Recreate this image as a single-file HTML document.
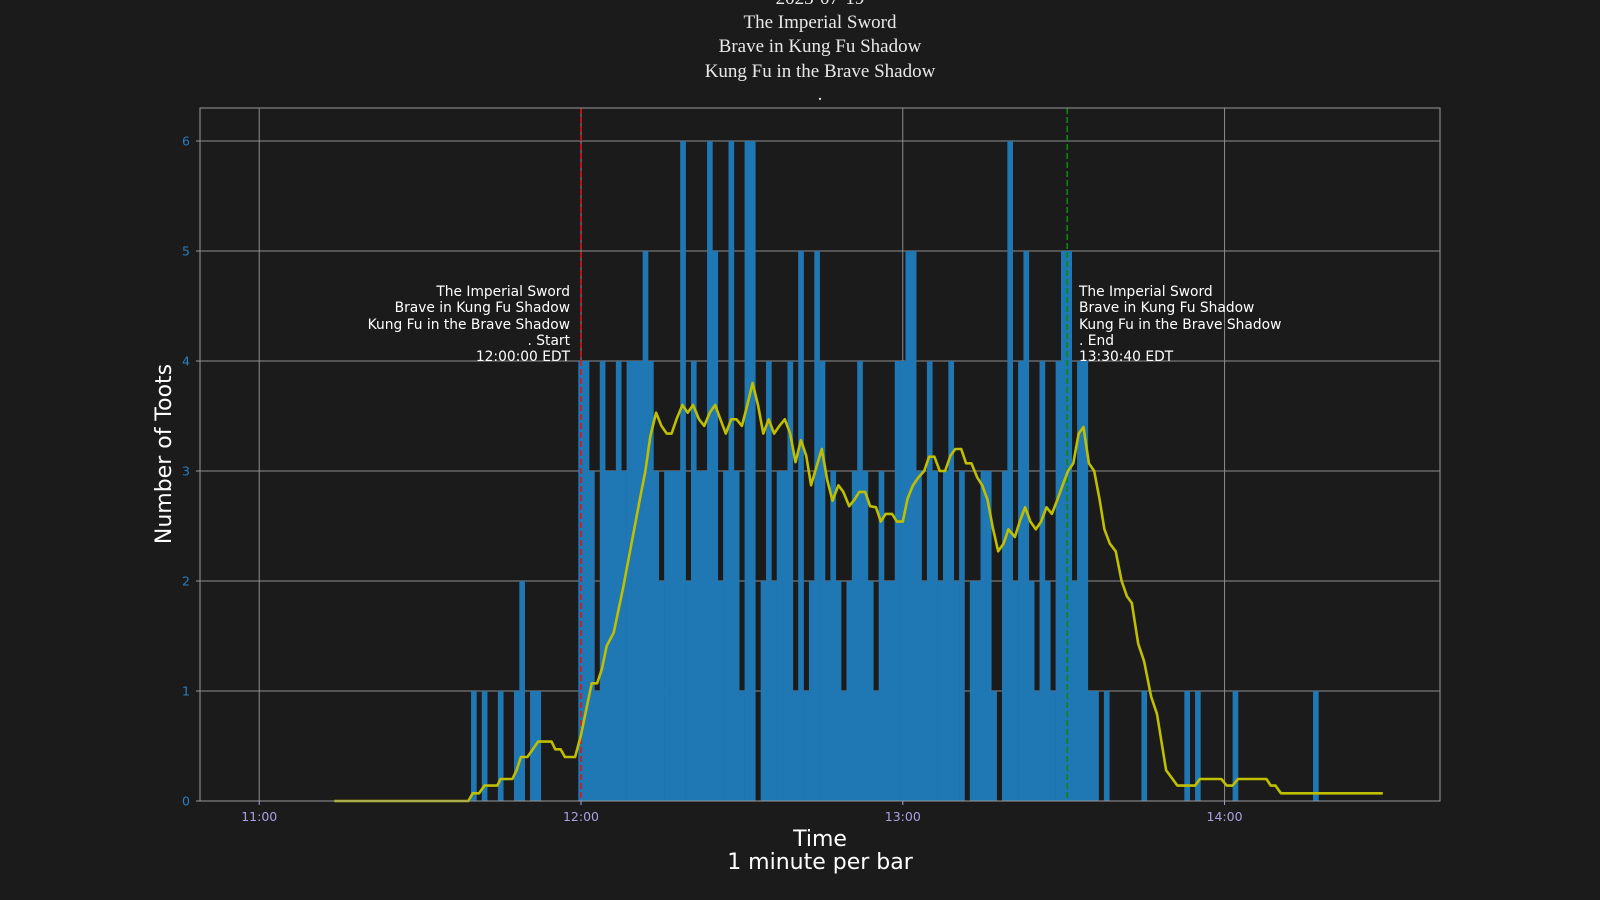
<!DOCTYPE html>
<html><head><meta charset="utf-8"><style>
html,body{margin:0;padding:0;background:#1b1b1b;}
svg{display:block;}
</style></head><body>
<svg id="chart" width="1600" height="900" viewBox="0 0 1600 900" xmlns="http://www.w3.org/2000/svg">
<rect x="0" y="0" width="1600" height="900" fill="#1b1b1b"/>
<g font-family="Liberation Serif, serif" font-size="19" fill="#e8e8e8" text-anchor="middle">
<text x="820" y="4">2023-07-19</text>
<text x="820" y="28">The Imperial Sword</text>
<text x="820" y="52">Brave in Kung Fu Shadow</text>
<text x="820" y="77">Kung Fu in the Brave Shadow</text>
<text x="820" y="100">.</text>
</g>
<g id="grid"></g>
<g id="bars"></g>
<g id="markers"></g>
<g id="line"></g>
<rect x="200" y="108" width="1240" height="693" fill="none" stroke="#9a9a9a" stroke-width="1"/>
<g id="ticks"></g>
<g font-family="DejaVu Sans, sans-serif" font-size="13.8" fill="#ffffff">
<g text-anchor="end">
<text x="570" y="296">The Imperial Sword</text>
<text x="570" y="312">Brave in Kung Fu Shadow</text>
<text x="570" y="329">Kung Fu in the Brave Shadow</text>
<text x="570" y="345">. Start</text>
<text x="570" y="361">12:00:00 EDT</text>
</g>
<g text-anchor="start">
<text x="1079" y="296">The Imperial Sword</text>
<text x="1079" y="312">Brave in Kung Fu Shadow</text>
<text x="1079" y="329">Kung Fu in the Brave Shadow</text>
<text x="1079" y="345">. End</text>
<text x="1079" y="361">13:30:40 EDT</text>
</g>
</g>
<text x="820" y="846" font-family="DejaVu Sans, sans-serif" font-size="22" fill="#ffffff" text-anchor="middle">Time</text>
<text x="820" y="869" font-family="DejaVu Sans, sans-serif" font-size="22" fill="#ffffff" text-anchor="middle">1 minute per bar</text>
<text x="0" y="0" transform="translate(171,454) rotate(-90)" font-family="DejaVu Sans, sans-serif" font-size="22" fill="#ffffff" text-anchor="middle">Number of Toots</text>
</svg>
<script>
const barMinutes = [-20,-18,-15,-12,-11,-9,-8,0,1,2,3,4,5,6,7,8,9,10,11,12,13,14,15,16,17,18,19,20,21,22,23,24,25,26,27,28,29,30,31,32,33,34,35,36,37,38,39,40,41,42,43,44,45,46,47,48,49,50,51,52,53,54,55,56,57,58,59,60,61,62,63,64,65,66,67,68,69,70,71,72,73,74,75,76,77,78,79,80,81,82,83,84,85,86,87,88,89,90,91,92,93,94,95,96,97,98,105,113,115,122,137];
const barCounts = [1,1,1,1,2,1,1,4,4,3,1,4,3,3,4,3,4,4,4,5,4,3,2,3,3,3,6,2,4,3,3,6,5,2,3,6,3,1,6,6,0,2,4,2,3,3,4,1,5,1,2,5,4,2,3,2,1,2,3,4,3,2,1,3,2,2,4,4,5,5,3,2,4,3,2,3,4,2,3,0,2,2,3,3,1,0,3,6,2,4,5,2,1,4,2,1,4,5,5,2,4,4,1,1,0,1,1,1,1,1,1];
const lineMinutes = [-46,-21,-20.2,-19,-18,-15.6,-15,-12.8,-12,-11.2,-10,-8,-5.5,-4.8,-3.8,-3,-1.1,0,2,3,3.9,4.8,6.1,7.9,9.5,11,12,12.9,14,15,16,16.9,17.8,18.9,19.9,20.9,22,23,24,25,26,27,28,29,30,31,32,33,34,35,36,37,38,39,40,41,42,42.9,43.8,44.9,45.9,46.9,48,48.9,50,51,51.9,53,53.9,55,55.9,56.8,58,58.9,60,60.9,61.9,62.9,64,64.9,65.9,66.9,67.9,68.9,69.8,70.9,71.8,72.8,73.9,74.8,75.8,76.8,77.8,78.8,79.7,80.9,81.8,82.8,83.8,84.8,85.8,86.8,87.8,88.9,89.8,90.8,91.8,92.8,93.7,94.7,95.7,96.7,97.6,98.6,99.7,100.8,101.8,102.7,103.9,105,106.3,107.4,109.1,111.2,114.5,115.4,119.4,120.4,121.5,122.5,127.8,128.6,129.5,130.5,149.5];
const lineValues = [0,0,0.07,0.07,0.14,0.14,0.2,0.2,0.28,0.4,0.4,0.54,0.54,0.47,0.47,0.4,0.4,0.6,1.07,1.07,1.2,1.41,1.53,1.95,2.36,2.75,3.0,3.31,3.53,3.41,3.34,3.34,3.47,3.6,3.53,3.6,3.47,3.41,3.53,3.6,3.47,3.34,3.47,3.47,3.41,3.6,3.8,3.6,3.34,3.47,3.34,3.41,3.47,3.34,3.08,3.28,3.14,2.87,3.02,3.2,2.92,2.73,2.87,2.81,2.68,2.74,2.81,2.81,2.68,2.67,2.54,2.61,2.61,2.54,2.54,2.75,2.87,2.94,3.0,3.13,3.13,3.0,3.0,3.14,3.2,3.2,3.07,3.07,2.94,2.87,2.74,2.48,2.27,2.34,2.47,2.4,2.54,2.67,2.54,2.47,2.54,2.67,2.61,2.75,2.87,3.0,3.07,3.34,3.4,3.07,3.0,2.74,2.47,2.34,2.27,2.0,1.86,1.8,1.43,1.27,0.95,0.79,0.28,0.14,0.14,0.2,0.2,0.14,0.14,0.2,0.2,0.14,0.14,0.07,0.07];
const yTicks = [0,1,2,3,4,5,6];
const xTickMinutes = [-60,0,60,120];
const xTickLabels = ["11:00","12:00","13:00","14:00"];
const startMinute = 0;
const endMinute = 90.667;

const NS = "http://www.w3.org/2000/svg";
const L = 200, R = 1440, T = 108, B = 801;
const PX_PER_MIN = 5.363, X0 = 581, PX_PER_UNIT = 110;
function xs(m){ return X0 + m * PX_PER_MIN; }
function ys(v){ return B - v * PX_PER_UNIT; }
function mk(tag, attrs, parent){ const e = document.createElementNS(NS, tag); for (const k in attrs) e.setAttribute(k, attrs[k]); parent.appendChild(e); return e; }

const grid = document.getElementById('grid');
const ticks = document.getElementById('ticks');
yTicks.forEach(v => {
  const g = mk('line', {x1:L, x2:R, y1:ys(v), y2:ys(v), stroke:'#8c8c8c', 'stroke-width':1}, grid);
  
  
  const tk = mk('line', {x1:L-4, x2:L, y1:ys(v), y2:ys(v), stroke:'#9a9a9a', 'stroke-width':1}, ticks);
  
  
  const t = mk('text', {x:L-10, y:ys(v)+4.5, 'font-family':'DejaVu Sans, sans-serif', 'font-size':12.5, fill:'#2a7fc0', 'text-anchor':'end'}, ticks);
  t.textContent = String(v);
  
  
});
xTickMinutes.forEach((m, i) => {
  const g = mk('line', {x1:xs(m), x2:xs(m), y1:T, y2:B, stroke:'#8c8c8c', 'stroke-width':1}, grid);
  
  
  const tk = mk('line', {x1:xs(m), x2:xs(m), y1:B, y2:B+4, stroke:'#a8a0e0', 'stroke-width':1}, ticks);
  
  
  const t = mk('text', {x:xs(m), y:B+20, 'font-family':'DejaVu Sans, sans-serif', 'font-size':12.5, fill:'#a8a0e0', 'text-anchor':'middle'}, ticks);
  t.textContent = xTickLabels[i];
  
  
});

const bars = document.getElementById('bars');
barMinutes.forEach((m, i) => {
  const v = barCounts[i];
  if (v <= 0) return;
  const r = mk('rect', {x:xs(m-0.5), y:ys(v), width:PX_PER_MIN+0.3, height:ys(0)-ys(v), fill:'#1f77b4'}, bars);
  
  
});

const markers = document.getElementById('markers');
const sl = mk('line', {x1:xs(startMinute), x2:xs(startMinute), y1:T, y2:B, stroke:'#e0121a', 'stroke-width':1.6, 'stroke-dasharray':'6,3'}, markers);


const el = mk('line', {x1:xs(endMinute), x2:xs(endMinute), y1:T, y2:B, stroke:'#0a8a0a', 'stroke-width':1.6, 'stroke-dasharray':'6,3'}, markers);



const lineG = document.getElementById('line');
const pts = lineMinutes.map((m, i) => xs(m).toFixed(1) + ',' + ys(lineValues[i]).toFixed(1)).join(' ');
const pl = mk('polyline', {points:pts, fill:'none', stroke:'#bfbf00', 'stroke-width':2.6, 'stroke-linejoin':'round'}, lineG);


</script>
</body></html>
